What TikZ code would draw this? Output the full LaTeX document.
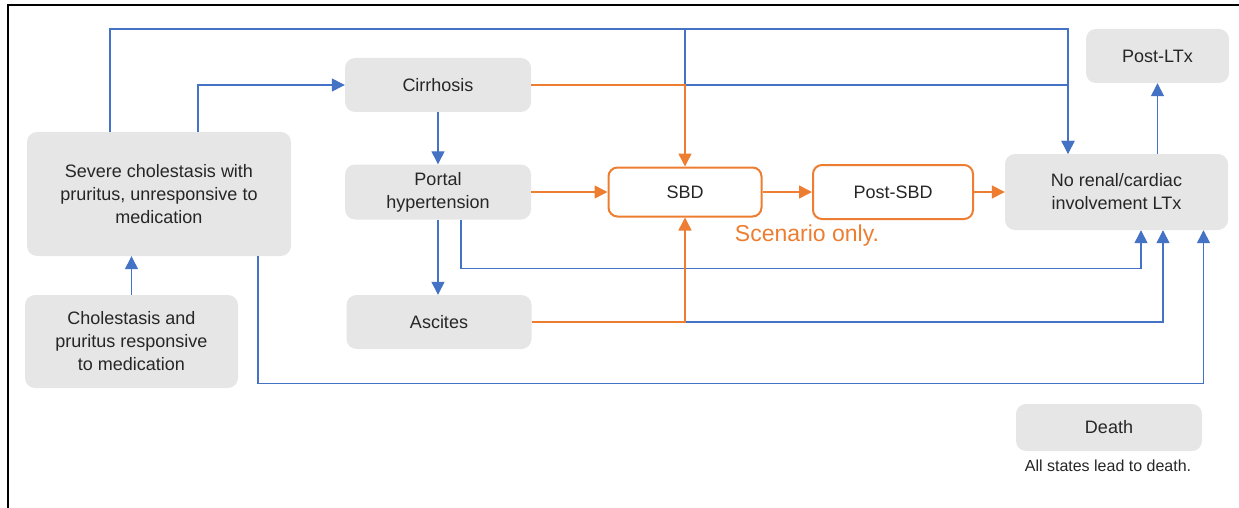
\documentclass[tikz,border=0pt]{standalone}
\usepackage{fontspec}
\setmainfont{Liberation Sans}
\usetikzlibrary{arrows.meta}
\usepackage{xcolor}
\definecolor{boxgray}{HTML}{E6E6E6}
\definecolor{lnblue}{HTML}{4472C4}
\definecolor{lnorange}{HTML}{ED7D31}
\definecolor{txtgray}{HTML}{262626}

\begin{document}
\begin{tikzpicture}[x=1pt,y=-1pt,
  state/.style={fill=boxgray, rounded corners=10pt, align=center, text=txtgray, inner sep=0pt, font=\fontsize{18}{23}\selectfont},
  sbdbox/.style={draw=lnorange, line width=2pt, fill=white, rounded corners=9pt, text=txtgray, inner sep=0pt, font=\fontsize{18}{23}\selectfont},
  bl/.style={lnblue, line width=1.3pt},
  og/.style={lnorange, line width=1.5pt},
  arr/.style={-{Triangle[length=13pt,width=13pt]}}]
\useasboundingbox (0,0) rectangle (1239,508);
\draw[line width=2pt] (1239,5) -- (8,5) -- (8,508);
% states
\node[state, minimum width=264pt, minimum height=124pt] (sev) at (159,194) {Severe cholestasis with\\pruritus, unresponsive to\\medication};
\node[state, minimum width=213pt, minimum height=93pt] (chol) at (131.5,341.5) {Cholestasis and\\pruritus responsive\\to medication};
\node[state, minimum width=186pt, minimum height=54pt] (cirr) at (438,85) {Cirrhosis};
\node[state, minimum width=186pt, minimum height=55pt] (portal) at (438,192) {Portal\\hypertension};
\node[state, minimum width=185pt, minimum height=54pt] (asc) at (439,322) {Ascites};
\node[sbdbox, minimum width=153pt, minimum height=49pt] (sbd) at (685,192) {SBD};
\node[sbdbox, minimum width=160pt, minimum height=54pt] (psbd) at (893,192) {Post-SBD};
\node[state, minimum width=223pt, minimum height=76pt] (noren) at (1116.5,192) {No renal/cardiac\\involvement LTx};
\node[state, minimum width=143pt, minimum height=54pt] (pltx) at (1157.5,56) {Post-LTx};
\node[state, minimum width=186pt, minimum height=47pt] (death) at (1109,427.5) {Death};
\node[text=lnorange, font=\fontsize{23}{26}\selectfont, inner sep=0pt] (scen) at (807,236) {Scenario only.};
\node[text=txtgray, font=\fontsize{16}{19}\selectfont, inner sep=0pt] (note) at (1108,466) {All states lead to death.};
% blue transitions
\coordinate (jt) at (685,29);
\draw[bl,arr] (chol.north) -- (chol.north |- sev.south);
\draw[bl,arr] ([xshift=39]sev.north) |- (cirr.west);
\draw[bl,arr] ([xshift=-49]sev.north) |- (jt) -| ([xshift=-48.5]noren.north);
\draw[bl] (jt) -- (jt |- cirr.east);
\draw[bl,arr] (cirr.east) -| ([xshift=-48.5]noren.north);
\draw[bl,arr] (cirr.south) -- (portal.north);
\draw[bl,arr] (portal.south) -- (portal.south |- asc.north);
\draw[bl,arr] ([xshift=23]portal.south) -- ++(0,49) -| ([xshift=24.5]noren.south);
\draw[bl,arr] (asc.east) -| ([xshift=46.5]noren.south);
\draw[bl,arr] ([xshift=99]sev.south) -- ++(0,127) -| ([xshift=87]noren.south);
\draw[bl,arr] (noren.north -| pltx.south) -- (pltx.south);
% orange transitions
\draw[og,arr] (cirr.east) -| (sbd.north);
\draw[og,arr] (asc.east) -| (sbd.south);
\draw[og,arr] (portal.east) -- (sbd.west);
\draw[og,arr] (sbd) -- (psbd);
\draw[og,arr] (psbd) -- (noren);
\end{tikzpicture}
\end{document}
